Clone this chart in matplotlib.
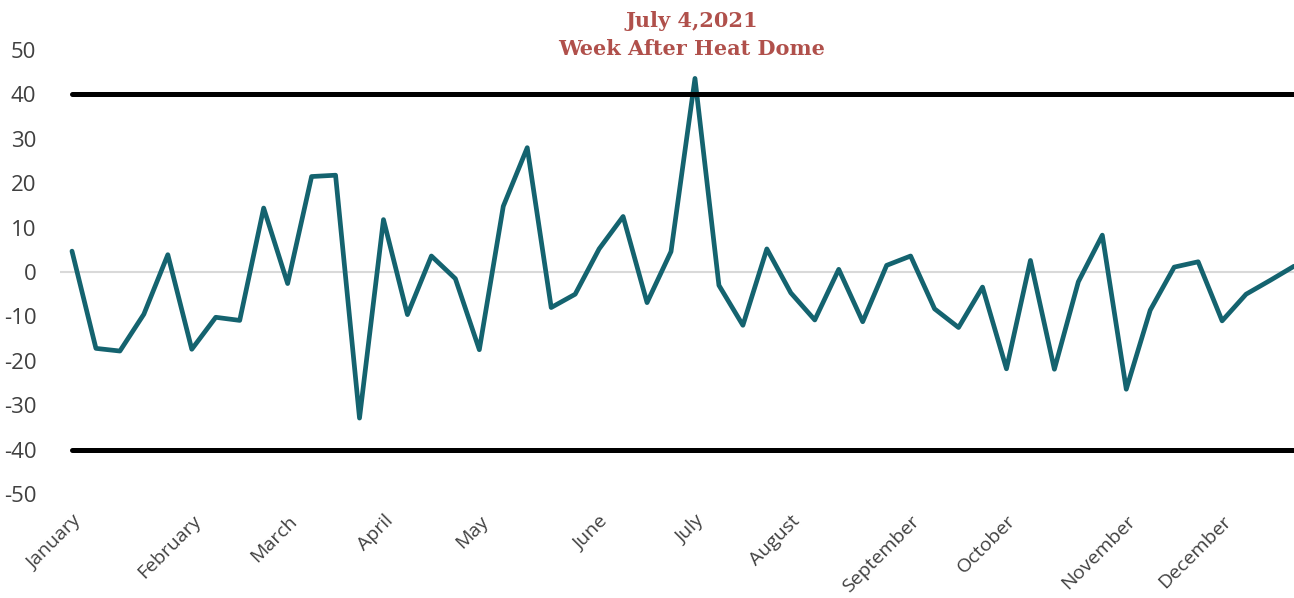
import matplotlib
matplotlib.use("Agg")
import matplotlib.pyplot as plt
import numpy as np

values = [4.7, -17.2, -17.8, -9.5, 3.9, -17.4, -10.2, -10.9, 14.4, -2.6,
          21.5, 21.8, -32.9, 11.8, -9.6, 3.6, -1.5, -17.5, 14.8, 28.0,
          -8.0, -5.0, 5.2, 12.5, -6.9, 4.6, 43.6, -3.0, -12.0, 5.2,
          -4.7, -10.8, 0.6, -11.2, 1.5, 3.6, -8.3, -12.5, -3.4, -21.8,
          2.6, -21.9, -2.2, 8.3, -26.4, -8.6, 1.1, 2.3, -11.0, -5.0,
          -1.9, 1.3]
upper_limit = 40
lower_limit = -40
month_labels = ["January", "February", "March", "April", "May", "June",
                "July", "August", "September", "October", "November", "December"]
month_week_index = [0, 5, 9, 13, 17, 22, 26, 30, 35, 39, 44, 48]
y_ticks = [50, 40, 30, 20, 10, 0, -10, -20, -30, -40, -50]
annotation_text = "July 4,2021\nWeek After Heat Dome"

teal = "#14636F"
label_color = "#404040"
title_color = "#B0504B"

fig = plt.figure(figsize=(12.94, 5.98), dpi=100)
ax = fig.add_axes([60/1294, 1 - 494/598, 1 - 60/1294, (494 - 50)/598])

x = np.arange(len(values))
ax.axhline(0, color="#D9D9D9", lw=1.5, zorder=1)
ax.plot(x, values, color=teal, lw=3.4, solid_joinstyle="round",
        solid_capstyle="round", zorder=2)
ax.plot(x, [upper_limit]*len(x), color="black", lw=3.6, solid_capstyle="round", zorder=3)
ax.plot(x, [lower_limit]*len(x), color="black", lw=3.6, solid_capstyle="round", zorder=3)

ax.set_xlim(-0.5, 51)
ax.set_ylim(-50, 50)
ax.set_yticks(y_ticks)
ax.set_yticklabels([str(v) for v in y_ticks], fontsize=16, color=label_color, family="Open Sans")
ax.set_xticks(month_week_index)
ax.set_xticklabels(month_labels, rotation=45, ha="right", rotation_mode="anchor",
                   fontsize=14, color=label_color, family="Open Sans")
ax.tick_params(axis="both", length=0)
ax.tick_params(axis="y", pad=17)
ax.tick_params(axis="x", pad=13)
for s in ax.spines.values():
    s.set_visible(False)

fig.text(692/1294, 1 - 35/598, annotation_text, ha="center", va="center",
         fontsize=15, fontweight="bold", family="DejaVu Serif", color=title_color,
         linespacing=1.45)

fig.savefig("out.png", dpi=100, facecolor="white")
